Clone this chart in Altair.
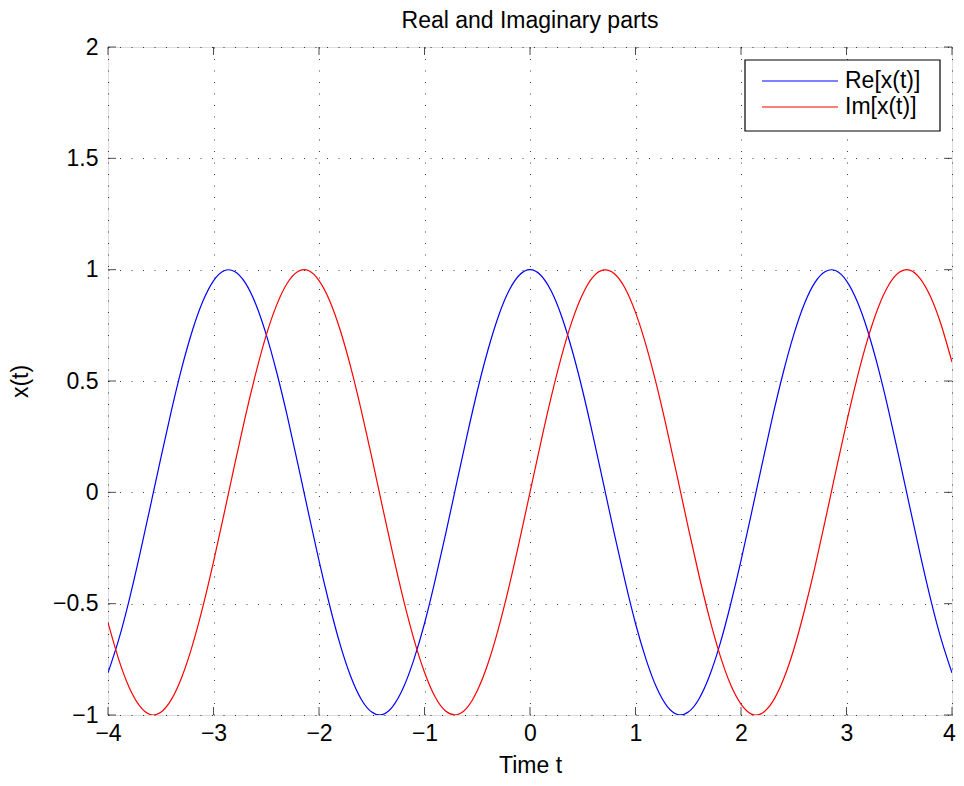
import altair as alt
import pandas as pd

t_vals = [round(-4 + 0.1 * i, 1) for i in range(81)]

re_pos = [1.000, 0.976, 0.905, 0.790, 0.637, 0.454, 0.248, 0.031, -0.188, -0.397,
          -0.589, -0.750, -0.877, -0.961, -0.998, -0.987, -0.929, -0.826, -0.683, -0.506,
          -0.307, -0.092, 0.127, 0.341, 0.537, 0.708, 0.846, 0.942, 0.992, 0.995,
          0.950, 0.859, 0.727, 0.560, 0.365, 0.153, -0.066, -0.282, -0.485, -0.664, -0.811]
im_pos = [0.000, 0.218, 0.426, 0.613, 0.771, 0.891, 0.969, 0.999, 0.982, 0.918,
          0.808, 0.660, 0.481, 0.278, 0.062, -0.158, -0.369, -0.563, -0.730, -0.862,
          -0.951, -0.996, -0.992, -0.940, -0.843, -0.706, -0.533, -0.337, -0.123, 0.097,
          0.312, 0.512, 0.687, 0.829, 0.931, 0.988, 0.998, 0.959, 0.875, 0.748, 0.585]

re_vals = re_pos[:0:-1] + re_pos
im_vals = [-v for v in im_pos[:0:-1]] + im_pos

series_names = ["Re[x(t)]", "Im[x(t)]"]
series_colors = ["#0000ff", "#ff0000"]
x_ticks = [-4, -3, -2, -1, 0, 1, 2, 3, 4]
y_ticks = [-1, -0.5, 0, 0.5, 1, 1.5, 2]

rows = []
for t, r, i in zip(t_vals, re_vals, im_vals):
    rows.append({"t": t, "v": r, "s": series_names[0]})
    rows.append({"t": t, "v": i, "s": series_names[1]})
df = pd.DataFrame(rows)

W, H = 844, 668
FONT = "Liberation Sans"
FS = 23

xscale = alt.Scale(domain=[-4, 4], nice=False, zero=False)
yscale = alt.Scale(domain=[-1, 2], nice=False, zero=False)
cscale = alt.Scale(domain=series_names, range=series_colors)

grid_axis = dict(grid=True, gridDash=[1, 10.5], gridColor="#000000", gridOpacity=0.75,
                 domain=False, ticks=False, labelFontSize=FS, labelFont=FONT,
                 labelColor="#000000", titleFont=FONT, titleFontSize=FS,
                 titleColor="#000000", titleFontWeight="normal", labelFlush=False,
                 format="~g")

lines = alt.Chart(df).mark_line(strokeWidth=1.2, interpolate="natural", clip=True).encode(
    x=alt.X("t:Q", scale=xscale,
            axis=alt.Axis(values=x_ticks, title="Time t", labelPadding=7, titlePadding=9,
                          labelOffset=alt.expr("datum.value == 4 ? -3 : 0"), **grid_axis)),
    y=alt.Y("v:Q", scale=yscale,
            axis=alt.Axis(values=y_ticks, title="x(t)", labelPadding=10, titlePadding=20, **grid_axis)),
    color=alt.Color("s:N", sort=series_names, scale=cscale, legend=None),
)

xt = pd.DataFrame({"t": x_ticks})
yt = pd.DataFrame({"v": y_ticks})
tick_style = dict(color="#000000", thickness=1, size=8)
xb = alt.Chart(xt).mark_tick(**tick_style).encode(x=alt.X("t:Q", scale=xscale), y=alt.value(H - 4))
xtop = alt.Chart(xt).mark_tick(**tick_style).encode(x=alt.X("t:Q", scale=xscale), y=alt.value(4))
yl = alt.Chart(yt).mark_tick(**tick_style).encode(y=alt.Y("v:Q", scale=yscale), x=alt.value(4))
yr = alt.Chart(yt).mark_tick(**tick_style).encode(y=alt.Y("v:Q", scale=yscale), x=alt.value(W - 4))

# manual legend (pixel positions inside the plot area)
one = pd.DataFrame({"k": [0]})
leg_box = alt.Chart(one).mark_rect(fill="#ffffff", stroke="#000000", strokeWidth=1.2).encode(
    x=alt.value(637), x2=alt.value(832), y=alt.value(13), y2=alt.value(84))
leg_layers = [leg_box]
for k, (name, col) in enumerate(zip(series_names, series_colors)):
    ypix = 34 + 26 * k
    leg_layers.append(alt.Chart(one).mark_rule(strokeWidth=1.2, color=col).encode(
        x=alt.value(654), x2=alt.value(730), y=alt.value(ypix)))
    leg_layers.append(alt.Chart(one).mark_text(align="left", baseline="middle", font=FONT,
                                               fontSize=FS, color="#000000", text=name).encode(
        x=alt.value(737), y=alt.value(ypix)))

chart = alt.layer(lines, xb, xtop, yl, yr, *leg_layers).properties(
    width=W, height=H,
    title=alt.TitleParams("Real and Imaginary parts", font=FONT, fontSize=FS,
                          fontWeight="normal", color="#000000", offset=3),
    autosize=alt.AutoSizeParams(type="none"),
    padding={"left": 100, "top": 39, "right": 4, "bottom": 63},
).configure_view(stroke="#000000", strokeWidth=1.4).configure(background="#ffffff")

chart.save("out.html", embed_options={"renderer": "svg", "actions": False})
